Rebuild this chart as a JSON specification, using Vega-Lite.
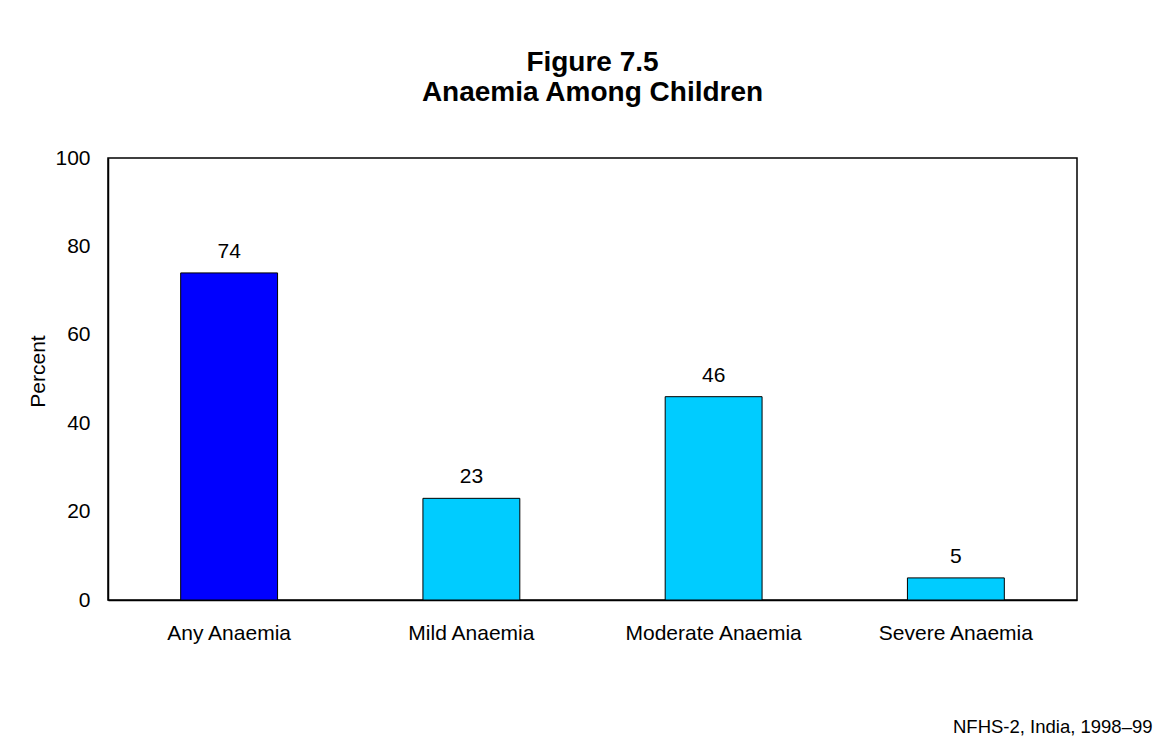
{
  "$schema": "https://vega.github.io/schema/vega-lite/v6.json",
  "autosize": {"type": "none"},
  "width": 969,
  "height": 442,
  "padding": {"left": 108, "top": 158, "right": 84, "bottom": 144},
  "background": "white",
  "title": {
    "text": ["Figure 7.5", "Anaemia Among Children"],
    "font": "Liberation Sans",
    "fontSize": 28,
    "fontWeight": "bold",
    "lineHeight": 30,
    "anchor": "middle",
    "color": "black",
    "offset": 40
  },
  "data": {
    "values": [
      {"category": "Any Anaemia", "percent": 74, "type": "any"},
      {"category": "Mild Anaemia", "percent": 23, "type": "level"},
      {"category": "Moderate Anaemia", "percent": 46, "type": "level"},
      {"category": "Severe Anaemia", "percent": 5, "type": "level"}
    ]
  },
  "encoding": {
    "x": {
      "field": "category",
      "type": "nominal",
      "sort": null,
      "scale": {"paddingInner": 0.6, "paddingOuter": 0.3},
      "axis": {
        "labelAngle": 0,
        "ticks": false,
        "domainColor": "black",
        "labelPadding": 22,
        "labelFontSize": 21,
        "labelFont": "Liberation Sans",
        "labelColor": "black",
        "title": "NFHS-2, India, 1998–99",
        "titleFont": "Liberation Sans",
        "titleFontSize": 18.5,
        "titleFontWeight": "normal",
        "titleColor": "black",
        "titleAnchor": "end",
        "titleAlign": "right",
        "titleBaseline": "alphabetic",
        "titleX": 1044,
        "titleY": 132
      }
    },
    "y": {
      "field": "percent",
      "type": "quantitative",
      "scale": {"domain": [0, 100]},
      "axis": {
        "values": [0, 20, 40, 60, 80, 100],
        "grid": false,
        "ticks": false,
        "domainColor": "black",
        "labelPadding": 18,
        "labelFontSize": 21,
        "labelFont": "Liberation Sans",
        "labelColor": "black",
        "title": "Percent",
        "titleFont": "Liberation Sans",
        "titleFontSize": 21,
        "titleFontWeight": "normal",
        "titleColor": "black",
        "titlePadding": 6,
        "titleY": 213
      }
    }
  },
  "layer": [
    {
      "mark": {"type": "bar", "stroke": "black", "strokeWidth": 1},
      "encoding": {
        "color": {
          "field": "type",
          "type": "nominal",
          "scale": {"domain": ["any", "level"], "range": ["#0000FF", "#00CCFF"]},
          "legend": null
        }
      }
    },
    {
      "mark": {"type": "text", "baseline": "bottom", "dy": -11, "font": "Liberation Sans", "fontSize": 21, "color": "black"},
      "encoding": {"text": {"field": "percent", "type": "quantitative"}}
    }
  ],
  "config": {
    "view": {"stroke": "black", "strokeWidth": 1.5},
    "axis": {"domainWidth": 1.5}
  }
}
